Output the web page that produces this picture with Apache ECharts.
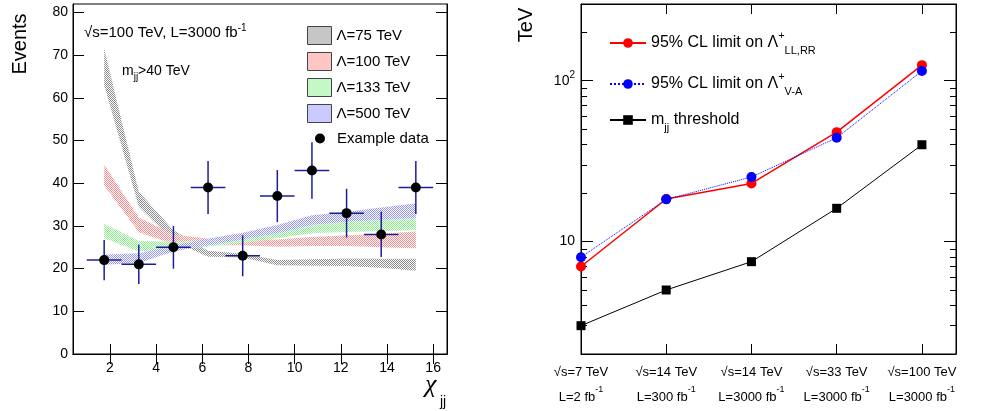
<!DOCTYPE html>
<html>
<head>
<meta charset="utf-8">
<title>Dijet chi distribution and CI limits</title>
<script src="https://cdn.jsdelivr.net/npm/echarts@6/dist/echarts.min.js"></script>
<style>
  html, body { margin: 0; padding: 0; background: #fff; }
  #chart { width: 985px; height: 411px; }
</style>
</head>
<body>
<div id="chart"></div>
<script>
// ---- left panel: chi_jj distribution ----
const chiCenters = [1.75, 3.25, 4.75, 6.25, 7.75, 9.25, 10.75, 12.25, 13.75, 15.25];
const eventCounts = [22, 21, 25, 39, 23, 37, 43, 33, 28, 39];
const eventErrors = [4.7, 4.6, 5.0, 6.2, 4.8, 6.1, 6.6, 5.7, 5.3, 6.2];
const chiHalfBin = 0.75;

const band75Low = [63, 34.5, 26.5, 22.8, 22.6, 20.8, 20.7, 20.6, 20.2, 19.5];
const band75High = [71.5, 38, 29, 24.2, 23.5, 22, 22.2, 22.4, 22.3, 22.3];
const band100Low = [39.5, 28.5, 25.8, 25.5, 25.5, 25.1, 25.3, 25.3, 25, 24.8];
const band100High = [44.4, 32, 28, 27, 26.8, 26.8, 27.4, 27.8, 28.2, 28.7];
const band133Low = [27.1, 24, 24.5, 25.2, 26, 27.1, 28.3, 28.6, 28.8, 29];
const band133High = [30.5, 26.5, 26.3, 26.7, 27.6, 28.6, 30.2, 31, 31.4, 31.8];
const band500Low = [20.9, 21.3, 24, 25.5, 26.8, 28.3, 30.2, 31, 31.4, 31.8];
const band500High = [23.3, 23.6, 25.5, 27, 28.4, 30.2, 32.5, 33.3, 34.3, 35.3];

const chiTicks = [2, 4, 6, 8, 10, 12, 14, 16];
const eventTicks = [0, 10, 20, 30, 40, 50, 60, 70, 80];

// ---- right panel: limits vs collider scenario ----
const scenarioIndex = [1, 2, 3, 4, 5];
const energyLabels = ['√s=7 TeV', '√s=14 TeV', '√s=14 TeV', '√s=33 TeV', '√s=100 TeV'];
const lumiLabels = ['L=2 fb', 'L=300 fb', 'L=3000 fb', 'L=3000 fb', 'L=3000 fb'];
const limitLLRR = [7.0, 18.4, 23.0, 47.9, 125];
const limitVA = [8.0, 18.3, 25.2, 44.2, 115];
const mjjThreshold = [3.0, 5.0, 7.5, 16.1, 40];
const logMajorTicks = [10, 100];
const logMinorTicks = [3, 4, 5, 6, 7, 8, 9, 20, 30, 40, 50, 60, 70, 80, 90, 200];

const FONT = '"Liberation Sans", Arial, Helvetica, sans-serif';

// ROOT-like dotted fill pattern
function dotPattern(color) {
  const c = document.createElement('canvas');
  c.width = 2;
  c.height = 2;
  const ctx = c.getContext('2d');
  ctx.fillStyle = color;
  ctx.fillRect(0, 0, 1, 1);
  ctx.fillRect(1, 1, 1, 1);
  return { image: c, repeat: 'repeat' };
}

const bands = [
  { name: 'Λ=75 TeV', low: band75Low, high: band75High, fill: dotPattern('#8c8c8c') },
  { name: 'Λ=100 TeV', low: band100Low, high: band100High, fill: dotPattern('#ff8c8c') },
  { name: 'Λ=133 TeV', low: band133Low, high: band133High, fill: dotPattern('#88f088') },
  { name: 'Λ=500 TeV', low: band500Low, high: band500High, fill: dotPattern('#9494ff') }
];

function bandSeries(b) {
  return {
    type: 'custom',
    name: b.name,
    xAxisIndex: 0,
    yAxisIndex: 0,
    silent: true,
    itemStyle: { color: b.fill },
    data: chiCenters.map((c, i) => [c, b.low[i], b.high[i]]),
    encode: { x: 0, y: [1, 2] },
    renderItem(params, api) {
      if (params.dataIndex !== 0) return null;
      const upper = chiCenters.map((c, i) => api.coord([c, b.high[i]]));
      const lower = chiCenters.map((c, i) => api.coord([c, b.low[i]])).reverse();
      return {
        type: 'polygon',
        shape: { points: upper.concat(lower) },
        style: { fill: b.fill, stroke: null }
      };
    }
  };
}

const black = '#000';
const axisLine = { show: true, lineStyle: { color: black, width: 1 } };

function tickAxis(extra) {
  return Object.assign({
    splitLine: { show: false },
    axisLine: axisLine,
    axisLabel: { show: false }
  }, extra);
}

const chart = echarts.init(document.getElementById('chart'));

const option = {
  animation: false,
  backgroundColor: '#fff',
  textStyle: { fontFamily: FONT, color: black },
  grid: [
    { left: 73, top: 4, width: 374, height: 350, show: true, borderColor: black, borderWidth: 1 },
    { left: 581, top: 4, width: 375, height: 350, show: true, borderColor: black, borderWidth: 1 }
  ],
  xAxis: [
    tickAxis({
      gridIndex: 0, type: 'value', min: 0.4, max: 16.6, position: 'bottom',
      axisTick: { inside: true, length: 10, customValues: chiTicks, lineStyle: { color: black } },
      axisLabel: { show: true, customValues: chiTicks, color: black, fontSize: 14, fontFamily: FONT, margin: 7 }
    }),
    tickAxis({
      gridIndex: 0, type: 'value', min: 0.4, max: 16.6, position: 'top',
      axisTick: { inside: true, length: 10, customValues: chiTicks, lineStyle: { color: black } }
    }),
    tickAxis({
      gridIndex: 1, type: 'value', min: 1, max: 5.4, position: 'bottom',
      axisTick: { inside: true, length: 10, customValues: [2, 3, 4, 5], lineStyle: { color: black } },
      axisLabel: {
        show: true,
        customValues: scenarioIndex,
        margin: 6,
        formatter: v => {
          const i = Math.round(v) - 1;
          return '{a|' + energyLabels[i] + '}\n{a|' + lumiLabels[i] + '}{sup|-1}';
        },
        rich: {
          a: { fontSize: 13, lineHeight: 25, fontFamily: FONT, color: black },
          sup: { fontSize: 9, lineHeight: 14, verticalAlign: 'top', fontFamily: FONT, color: black }
        }
      }
    }),
    tickAxis({
      gridIndex: 1, type: 'value', min: 1, max: 5.4, position: 'top',
      axisTick: { inside: true, length: 10, customValues: [2, 3, 4, 5], lineStyle: { color: black } }
    })
  ],
  yAxis: [
    tickAxis({
      gridIndex: 0, type: 'value', min: 0, max: 82, position: 'left',
      axisTick: { inside: true, length: 11, customValues: eventTicks, lineStyle: { color: black } },
      axisLabel: { show: true, customValues: eventTicks, color: black, fontSize: 14, fontFamily: FONT, margin: 5 }
    }),
    tickAxis({
      gridIndex: 0, type: 'value', min: 0, max: 82, position: 'right',
      axisTick: { inside: true, length: 11, customValues: eventTicks, lineStyle: { color: black } }
    }),
    tickAxis({
      gridIndex: 1, type: 'log', logBase: 10, min: 2, max: 300, position: 'left',
      axisTick: { inside: true, length: 12, customValues: logMajorTicks, lineStyle: { color: black } },
      axisLabel: {
        show: true,
        customValues: logMajorTicks,
        margin: 6,
        formatter: v => (Math.round(v) === 100 ? '{b|10}{sup|2}' : '{b|10}'),
        rich: {
          b: { fontSize: 14, lineHeight: 20, fontFamily: FONT, color: black },
          sup: { fontSize: 10, lineHeight: 10, verticalAlign: 'top', fontFamily: FONT, color: black }
        }
      }
    }),
    tickAxis({
      gridIndex: 1, type: 'log', logBase: 10, min: 2, max: 300, position: 'left',
      axisLine: { show: false },
      axisTick: { inside: true, length: 6, customValues: logMinorTicks, lineStyle: { color: black } }
    }),
    tickAxis({
      gridIndex: 1, type: 'log', logBase: 10, min: 2, max: 300, position: 'right',
      axisTick: { inside: true, length: 12, customValues: logMajorTicks, lineStyle: { color: black } }
    }),
    tickAxis({
      gridIndex: 1, type: 'log', logBase: 10, min: 2, max: 300, position: 'right',
      axisLine: { show: false },
      axisTick: { inside: true, length: 6, customValues: logMinorTicks, lineStyle: { color: black } }
    })
  ],
  legend: [
    {
      left: 302, top: 21, orient: 'vertical',
      itemWidth: 24, itemHeight: 18, itemGap: 7,
      icon: 'rect', selectedMode: false,
      textStyle: { fontFamily: FONT, fontSize: 15, color: black },
      data: bands.map(b => ({
        name: b.name,
        itemStyle: { color: b.fill, borderColor: '#444', borderWidth: 1 }
      }))
    },
    {
      left: 310, top: 126, orient: 'vertical',
      itemWidth: 10, itemHeight: 10, selectedMode: false,
      textStyle: { fontFamily: FONT, fontSize: 15, color: black, padding: [0, 0, 0, 7] },
      data: ['Example data']
    },
    {
      left: 604, top: 25, orient: 'vertical',
      itemWidth: 36, itemHeight: 12, itemGap: 15, selectedMode: false,
      data: ['limLLRR', 'limVA', 'mjj'],
      formatter: n => ({
        limLLRR: '{t|95% CL limit on Λ}{sup|+}{sub|LL,RR}',
        limVA: '{t|95% CL limit on Λ}{sup|+}{sub|V-A}',
        mjj: '{t|m}{sub|jj}{t| threshold}'
      })[n],
      textStyle: {
        fontFamily: FONT, color: black,
        rich: {
          t: { fontSize: 16, lineHeight: 26, fontFamily: FONT, color: black },
          sup: { fontSize: 11, lineHeight: 14, verticalAlign: 'top', fontFamily: FONT, color: black },
          sub: { fontSize: 11, lineHeight: 14, verticalAlign: 'bottom', fontFamily: FONT, color: black }
        }
      }
    }
  ],
  graphic: [
    { type: 'text', x: 20, y: 44, rotation: Math.PI / 2,
      style: { text: 'Events', font: '20px ' + FONT, fill: black, align: 'center', verticalAlign: 'middle' } },
    { type: 'text', x: 526, y: 25, rotation: Math.PI / 2,
      style: { text: 'TeV', font: '20px ' + FONT, fill: black, align: 'center', verticalAlign: 'middle' } },
    { type: 'text', x: 425, y: 385,
      style: { text: 'χ', font: 'italic 26px "Liberation Serif", "DejaVu Serif", serif', fill: black, align: 'left', verticalAlign: 'middle' } },
    { type: 'text', x: 440, y: 402,
      style: { text: 'jj', font: '14px ' + FONT, fill: black, align: 'left', verticalAlign: 'middle' } },
    { type: 'text', x: 84, y: 33,
      style: {
        text: '{a|√s=100 TeV, L=3000 fb}{sup|-1}', fill: black, align: 'left', verticalAlign: 'middle',
        rich: {
          a: { fontSize: 15, lineHeight: 20, fontFamily: FONT, fill: black },
          sup: { fontSize: 10, lineHeight: 10, verticalAlign: 'top', fontFamily: FONT, fill: black }
        }
      } },
    { type: 'text', x: 122, y: 71,
      style: {
        text: '{a|m}{sub|jj}{a|>40 TeV}', fill: black, align: 'left', verticalAlign: 'middle',
        rich: {
          a: { fontSize: 14, lineHeight: 22, fontFamily: FONT, fill: black },
          sub: { fontSize: 10, lineHeight: 11, verticalAlign: 'bottom', fontFamily: FONT, fill: black }
        }
      } }
  ],
  series: bands.map(bandSeries).concat([
    {
      type: 'custom',
      name: 'errors',
      xAxisIndex: 0,
      yAxisIndex: 0,
      silent: true,
      data: chiCenters.map((c, i) => [c, eventCounts[i], eventErrors[i]]),
      encode: { x: 0, y: 1 },
      renderItem(params, api) {
        const x = api.value(0);
        const y = api.value(1);
        const e = api.value(2);
        const top = api.coord([x, y + e]);
        const bot = api.coord([x, y - e]);
        const l = api.coord([x - chiHalfBin, y]);
        const r = api.coord([x + chiHalfBin, y]);
        const st = { stroke: '#1c1c9c', lineWidth: 1.5 };
        return {
          type: 'group',
          children: [
            { type: 'line', shape: { x1: top[0], y1: top[1], x2: bot[0], y2: bot[1] }, style: st },
            { type: 'line', shape: { x1: l[0], y1: l[1], x2: r[0], y2: r[1] }, style: st }
          ]
        };
      }
    },
    {
      type: 'scatter',
      name: 'Example data',
      xAxisIndex: 0,
      yAxisIndex: 0,
      symbol: 'circle',
      symbolSize: 10,
      itemStyle: { color: black, opacity: 1 },
      data: chiCenters.map((c, i) => [c, eventCounts[i]])
    },
    {
      type: 'line',
      name: 'limLLRR',
      xAxisIndex: 2,
      yAxisIndex: 2,
      symbol: 'circle',
      symbolSize: 10,
      lineStyle: { color: '#ff0000', width: 1.5 },
      itemStyle: { color: '#ff0000' },
      data: scenarioIndex.map((x, i) => [x, limitLLRR[i]])
    },
    {
      type: 'line',
      name: 'limVA',
      xAxisIndex: 2,
      yAxisIndex: 2,
      symbol: 'circle',
      symbolSize: 10,
      lineStyle: { color: '#0000ff', width: 1, type: 'dotted' },
      itemStyle: { color: '#0000ff' },
      data: scenarioIndex.map((x, i) => [x, limitVA[i]])
    },
    {
      type: 'line',
      name: 'mjj',
      xAxisIndex: 2,
      yAxisIndex: 2,
      symbol: 'rect',
      symbolSize: 9,
      lineStyle: { color: black, width: 1 },
      itemStyle: { color: black },
      data: scenarioIndex.map((x, i) => [x, mjjThreshold[i]])
    }
  ])
};

chart.setOption(option);
</script>
</body>
</html>
